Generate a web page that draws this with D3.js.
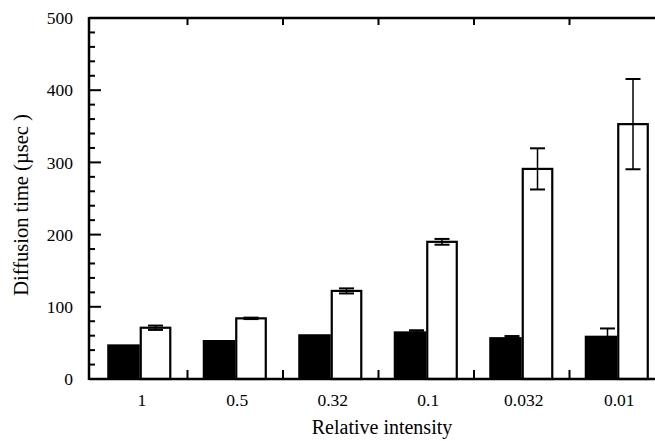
<!DOCTYPE html>
<html>
<head>
<meta charset="utf-8">
<script src="https://cdn.jsdelivr.net/npm/d3@7"></script>
<style>
body { margin: 0; background: #fff; }
text { font-family: "Liberation Serif", "Times New Roman", serif; fill: #000; }
</style>
</head>
<body>
<svg id="chart" width="655" height="441"></svg>
<script>
/* values */
var CATEGORIES = ["1", "0.5", "0.32", "0.1", "0.032", "0.01"];
var FILLED_VALUES = [48, 54, 62, 66, 58, 60];
var FILLED_ERRORS = [0, 0, 0, 1.5, 1.5, 10];
var OPEN_VALUES = [71, 84, 122, 190, 291, 353];
var OPEN_ERRORS = [3, 1, 3.5, 4, 28.5, 62.5];
var Y_TICKS = [0, 100, 200, 300, 400, 500];

var svg = d3.select("#chart");

var x = d3.scaleBand().domain(CATEGORIES).range([92, 665]).paddingInner(0.34).paddingOuter(0.17);
var y = d3.scaleLinear().domain([0, 500]).range([379, 18]);
var sub = d3.scaleBand().domain(["filled", "open"]).range([0, x.bandwidth()]);

var left = 89, right = 655;

/* bars */
var rows = CATEGORIES.map(function (c, i) {
    return {cat: c, filled: FILLED_VALUES[i], filledErr: FILLED_ERRORS[i], open: OPEN_VALUES[i], openErr: OPEN_ERRORS[i]};
});

var groups = svg.selectAll(".group").data(rows).enter()
    .append("g")
    .attr("class", "group")
    .attr("transform", function (d) { return "translate(" + x(d.cat) + ",0)"; });

groups.append("rect")
    .attr("x", sub("filled") - 1)
    .attr("y", function (d) { return y(d.filled); })
    .attr("width", sub.bandwidth() + 1)
    .attr("height", function (d) { return y(0) - y(d.filled); })
    .attr("fill", "#000");

groups.append("rect")
    .attr("x", sub("open") + 1)
    .attr("y", function (d) { return y(d.open); })
    .attr("width", sub.bandwidth() - 2)
    .attr("height", function (d) { return y(0) - y(d.open); })
    .attr("fill", "#fff")
    .attr("stroke", "#000")
    .attr("stroke-width", 2.2);

function errorBar(g, cx, v, e) {
    if (!e) return;
    var capW = 7.5;
    g.append("line")
        .attr("x1", cx).attr("x2", cx)
        .attr("y1", y(v + e)).attr("y2", y(v - e))
        .attr("stroke", "#000").attr("stroke-width", 1.5);
    [v + e, v - e].forEach(function (t) {
        g.append("line")
            .attr("x1", cx - capW).attr("x2", cx + capW)
            .attr("y1", y(t)).attr("y2", y(t))
            .attr("stroke", "#000").attr("stroke-width", 2);
    });
}

groups.each(function (d) {
    var g = d3.select(this);
    errorBar(g, sub("filled") + sub.bandwidth() / 2 + 6, d.filled, d.filledErr);
    errorBar(g, sub("open") + sub.bandwidth() / 2, d.open, d.openErr);
});

/* axes frame */
var axisStroke = 2.5;

// left axis with major/minor ticks
var minorTicks = d3.range(0, 501, 20);
svg.append("g").selectAll("line").data(minorTicks).enter()
    .append("line")
    .attr("x1", left)
    .attr("x2", function (d) { return d % 100 === 0 ? left + 12 : left + 6; })
    .attr("y1", function (d) { return y(d); })
    .attr("y2", function (d) { return y(d); })
    .attr("stroke", "#000")
    .attr("stroke-width", 2);

svg.append("g").selectAll("text").data(Y_TICKS).enter()
    .append("text")
    .attr("x", 73)
    .attr("y", function (d) { return y(d); })
    .attr("dy", "0.35em")
    .attr("text-anchor", "end")
    .style("font-size", "17.5px")
    .text(function (d) { return d; });

svg.append("line")
    .attr("x1", left).attr("x2", left)
    .attr("y1", y(500) - 1).attr("y2", y(0) + 1)
    .attr("stroke", "#000").attr("stroke-width", axisStroke);

// bottom and top spines
svg.append("line")
    .attr("x1", left).attr("x2", right)
    .attr("y1", y(0)).attr("y2", y(0))
    .attr("stroke", "#000").attr("stroke-width", axisStroke);
svg.append("line")
    .attr("x1", left).attr("x2", right)
    .attr("y1", y(500)).attr("y2", y(500))
    .attr("stroke", "#000").attr("stroke-width", axisStroke);

// category separators on bottom (up) and top (down)
var separators = CATEGORIES.slice(1).map(function (c) { return x(c) - x.step() * x.paddingInner() / 2; });
svg.append("g").selectAll("line").data(separators).enter()
    .append("line")
    .attr("x1", function (d) { return d; }).attr("x2", function (d) { return d; })
    .attr("y1", y(0)).attr("y2", y(0) - 9)
    .attr("stroke", "#000").attr("stroke-width", 2);
svg.append("g").selectAll("line").data(separators).enter()
    .append("line")
    .attr("x1", function (d) { return d; }).attr("x2", function (d) { return d; })
    .attr("y1", y(500)).attr("y2", y(500) + 7)
    .attr("stroke", "#000").attr("stroke-width", 2);

// category labels
svg.append("g").selectAll("text").data(CATEGORIES).enter()
    .append("text")
    .attr("x", function (d) { return x(d) + x.bandwidth() / 2 + 2; })
    .attr("y", 406)
    .attr("text-anchor", "middle")
    .style("font-size", "17.5px")
    .text(function (d) { return d; });

/* axis titles */
svg.append("text")
    .attr("x", 382)
    .attr("y", 434)
    .attr("text-anchor", "middle")
    .style("font-size", "20px")
    .text("Relative intensity");

svg.append("text")
    .attr("transform", "translate(28,205) rotate(-90)")
    .attr("text-anchor", "middle")
    .style("font-size", "20.5px")
    .text("Diffusion time (\u00b5sec )");
</script>
</body>
</html>
